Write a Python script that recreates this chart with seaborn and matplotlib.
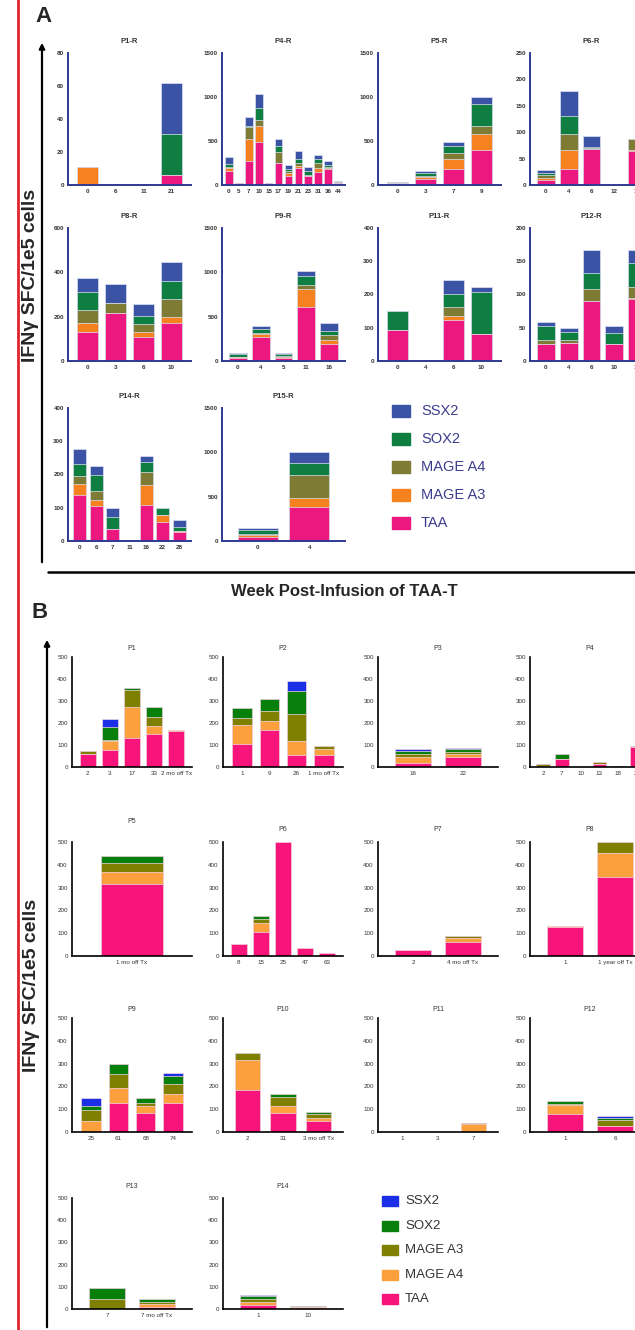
import numpy as np
import pandas as pd
import seaborn as sns
import matplotlib.pyplot as plt
from matplotlib.lines import Line2D
from matplotlib.patches import Rectangle, FancyArrowPatch

# stack order bottom -> top
A_ANTIGENS = ["TAA", "MAGE A3", "MAGE A4", "SOX2", "SSX2"]
A_COLORS = ["#ec177f", "#f5821f", "#7d7b34", "#0e7f41", "#3a53a4"]
B_ANTIGENS = ["TAA", "MAGE A4", "MAGE A3", "SOX2", "SSX2"]
B_COLORS = ["#f7157c", "#fca03e", "#7f7f00", "#06800a", "#1a2fe6"]

# ---- panel A (rows: TAA, MAGE A3, MAGE A4, SOX2, SSX2)
p1r_weeks = ["0", "6", "11", "21"]
p1r = [[0, 0, 0, 6], [11, 0, 0, 0], [0, 0, 0, 0], [0, 0, 0, 25], [0, 0, 0, 31]]

p4r_weeks = ["0", "5", "7", "10", "15", "17", "19", "21", "23", "31", "36", "44"]
p4r = [[155, 25, 270, 485, 25, 245, 100, 190, 100, 150, 185, 20],
       [40, 0, 252, 180, 0, 10, 35, 25, 5, 40, 10, 5],
       [15, 0, 135, 70, 0, 115, 20, 30, 10, 55, 10, 5],
       [30, 0, 10, 145, 0, 70, 30, 45, 40, 45, 20, 5],
       [80, 0, 110, 150, 0, 85, 40, 95, 45, 50, 45, 5]]

p5r_weeks = ["0", "3", "7", "9"]
p5r = [[15, 70, 180, 400], [5, 25, 110, 180], [3, 10, 70, 95],
       [5, 27, 85, 245], [2, 25, 45, 80]]

p6r_weeks = ["0", "4", "6", "12", "16"]
p6r = [[10, 30, 68, 0, 65], [4, 36, 1, 0, 2], [4, 30, 1, 0, 21],
       [5, 35, 2, 0, 0], [5, 47, 20, 0, 0]]

p8r_weeks = ["0", "3", "6", "10"]
p8r = [[130, 218, 110, 173], [40, 0, 22, 27], [60, 42, 35, 80],
       [83, 0, 37, 80], [60, 87, 52, 87]]

p9r_weeks = ["0", "4", "5", "11", "16"]
p9r = [[30, 275, 38, 605, 188], [10, 25, 11, 205, 50], [8, 20, 11, 50, 50],
       [30, 42, 15, 100, 52], [7, 38, 15, 60, 87]]

p11r_weeks = ["0", "4", "6", "10"]
p11r = [[93, 0, 122, 80], [0, 0, 12, 0], [0, 0, 28, 0],
        [58, 0, 39, 129], [0, 0, 43, 13]]

p12r_weeks = ["0", "4", "6", "10", "14"]
p12r = [[25, 27, 90, 25, 93], [1, 0, 0, 0, 2], [6, 5, 18, 0, 17],
        [21, 11, 24, 17, 35], [6, 6, 35, 11, 20]]

p14r_weeks = ["0", "6", "7", "11", "16", "22", "28"]
p14r = [[137, 104, 36, 0, 108, 57, 26], [35, 20, 0, 0, 59, 20, 3],
        [24, 27, 0, 0, 40, 2, 2], [36, 48, 35, 0, 30, 20, 12],
        [44, 27, 27, 0, 20, 0, 20]]

p15r_weeks = ["0", "4"]
p15r = [[49, 380], [15, 100], [11, 270], [49, 125], [19, 130]]

# ---- panel B (rows: TAA, MAGE A4, MAGE A3, SOX2, SSX2)
b1_weeks = ["2", "3", "17", "33", "2 mo off Tx"]
b1 = [[58, 76, 133, 152, 163], [0, 41, 138, 35, 4], [15, 8, 80, 42, 0],
      [0, 55, 10, 42, 0], [0, 38, 0, 3, 0]]

b2_weeks = ["1", "9", "26", "1 mo off Tx"]
b2 = [[104, 168, 53, 55], [86, 42, 66, 25], [34, 45, 122, 17],
      [43, 54, 105, 0], [0, 0, 43, 0]]

b3_weeks = ["16", "22"]
b3 = [[20, 47], [26, 12], [15, 8], [12, 15], [11, 5]]

b4_weeks = ["2", "7", "10", "13", "18", "2y"]
b4 = [[3, 36, 0, 12, 5, 92], [0, 0, 0, 3, 0, 0], [12, 0, 0, 6, 0, 5],
      [0, 24, 0, 0, 0, 0], [0, 0, 0, 0, 0, 0]]

b5_weeks = ["1 mo off Tx"]
b5 = [[317], [51], [40], [29], [0]]

b6_weeks = ["8", "15", "25", "47", "63"]
b6 = [[51, 106, 500, 35, 12], [0, 37, 0, 0, 0], [0, 20, 0, 0, 0],
      [0, 12, 0, 0, 0], [0, 0, 0, 0, 0]]

b7_weeks = ["2", "4 mo off Tx"]
b7 = [[28, 60], [0, 18], [0, 10], [0, 0], [0, 0]]

b8_weeks = ["1", "1 year off Tx"]
b8 = [[128, 345], [4, 105], [0, 50], [0, 0], [0, 0]]

b9_weeks = ["25", "61", "68", "74"]
b9 = [[0, 128, 82, 128], [50, 67, 32, 40], [48, 60, 15, 42],
      [15, 45, 20, 37], [37, 0, 0, 12]]

b10_weeks = ["2", "31", "3 mo off Tx"]
b10 = [[185, 85, 50], [130, 30, 12], [33, 38, 18], [0, 12, 7], [0, 3, 0]]

b11_weeks = ["1", "3", "7"]
b11 = [[0, 0, 0], [0, 0, 36], [0, 0, 4], [0, 0, 0], [0, 0, 0]]

b12_weeks = ["1", "6"]
b12 = [[80, 25], [37, 3], [5, 25], [12, 10], [0, 7]]

b13_weeks = ["7", "7 mo off Tx"]
b13 = [[0, 10], [0, 12], [45, 10], [48, 12], [0, 0]]

b14_weeks = ["1", "10"]
b14 = [[18, 5], [15, 2], [12, 3], [15, 5], [5, 0]]

# ---- layout (pixels)
W, H = 635, 1330
NARROW = ["Liberation Sans Narrow", "Liberation Sans", "DejaVu Sans"]
A_ROWS = [(53, 185), (228, 361), (408, 541)]
A_COLS = [68, 222, 378, 530]
B_ROWS = [(657, 767), (842, 956), (1018, 1132), (1198, 1309)]
B_COLS = [72, 223, 378, 530]
B_PADS = [5, 8, 5, 7]

A_PANELS = [("P1-R", p1r_weeks, p1r, 80, 20, 0, 0),
            ("P4-R", p4r_weeks, p4r, 1500, 500, 0, 1),
            ("P5-R", p5r_weeks, p5r, 1500, 500, 0, 2),
            ("P6-R", p6r_weeks, p6r, 250, 50, 0, 3),
            ("P8-R", p8r_weeks, p8r, 600, 200, 1, 0),
            ("P9-R", p9r_weeks, p9r, 1500, 500, 1, 1),
            ("P11-R", p11r_weeks, p11r, 400, 100, 1, 2),
            ("P12-R", p12r_weeks, p12r, 200, 50, 1, 3),
            ("P14-R", p14r_weeks, p14r, 400, 100, 2, 0),
            ("P15-R", p15r_weeks, p15r, 1500, 500, 2, 1)]

B_PANELS = [("P1", b1_weeks, b1, 0, 0), ("P2", b2_weeks, b2, 0, 1),
            ("P3", b3_weeks, b3, 0, 2), ("P4", b4_weeks, b4, 0, 3),
            ("P5", b5_weeks, b5, 1, 0), ("P6", b6_weeks, b6, 1, 1),
            ("P7", b7_weeks, b7, 1, 2), ("P8", b8_weeks, b8, 1, 3),
            ("P9", b9_weeks, b9, 2, 0), ("P10", b10_weeks, b10, 2, 1),
            ("P11", b11_weeks, b11, 2, 2), ("P12", b12_weeks, b12, 2, 3),
            ("P13", b13_weeks, b13, 3, 0), ("P14", b14_weeks, b14, 3, 1)]


def fx(x):
    return x / W


def fy(y):
    return 1 - y / H


def stacked(ax, weeks, rows, antigens, colors, edge, width):
    cum = pd.DataFrame(rows, index=antigens, columns=weeks).cumsum(axis=0)
    for i in reversed(range(len(antigens))):
        sns.barplot(x=weeks, y=cum.iloc[i].values, order=weeks, color=colors[i],
                    saturation=1, errorbar=None, width=width, edgecolor=edge,
                    linewidth=0.5, ax=ax)
    ax.set_xlim(-0.7, len(weeks) - 0.3)
    ax.set_xlabel("")
    ax.set_ylabel("")


sns.set_style("white")
plt.rcParams["font.family"] = ["Liberation Sans", "DejaVu Sans"]
fig = plt.figure(figsize=(W / 100, H / 100), dpi=100)

for title, weeks, rows, ymax, step, r, c in A_PANELS:
    top, bot = A_ROWS[r]
    ax = fig.add_axes([fx(A_COLS[c]), fy(bot), 123 / W, (bot - top) / H])
    stacked(ax, weeks, rows, A_ANTIGENS, A_COLORS, "#dfe2f2", 0.78)
    ax.set_ylim(0, ymax)
    ax.set_yticks(np.arange(0, ymax + 1, step))
    ax.set_title(title, fontsize=5.5, fontweight="bold", family=NARROW,
                 color="#333333", pad=7)
    for s in ["top", "right"]:
        ax.spines[s].set_visible(False)
    for s in ["left", "bottom"]:
        ax.spines[s].set_color("#2e3a92")
        ax.spines[s].set_linewidth(1.4)
    ax.tick_params(colors="#2e3a92", length=2, width=0.8, pad=1, labelsize=4.5,
                   labelcolor="#333333")
    for lab in ax.get_xticklabels() + ax.get_yticklabels():
        lab.set_fontweight("bold")
        lab.set_family(NARROW)

for title, weeks, rows, r, c in B_PANELS:
    top, bot = B_ROWS[r]
    ax = fig.add_axes([fx(B_COLS[c]), fy(bot), 120 / W, (bot - top) / H])
    stacked(ax, weeks, rows, B_ANTIGENS, B_COLORS, "#f4d9e6", 0.72)
    ax.set_ylim(0, 500)
    ax.set_yticks(np.arange(0, 501, 100))
    pad = 14 if title == "P5" else B_PADS[r]
    ax.set_title(title, fontsize=5, family=NARROW, color="#333333", pad=pad)
    for s in ["top", "right"]:
        ax.spines[s].set_visible(False)
    for s in ["left", "bottom"]:
        ax.spines[s].set_color("black")
        ax.spines[s].set_linewidth(1.2)
    ax.tick_params(colors="black", length=2, width=0.8, pad=1, labelsize=4.5,
                   labelcolor="#333333")
    for lab in ax.get_xticklabels() + ax.get_yticklabels():
        lab.set_family(NARROW)

# legends
A_LEG_Y = [411, 439, 467, 495, 523]
for name, color, y in zip(A_ANTIGENS[::-1], A_COLORS[::-1], A_LEG_Y):
    fig.add_artist(Rectangle((fx(392), fy(y + 6)), 18 / W, 12 / H,
                             transform=fig.transFigure, color=color))
    fig.text(fx(421), fy(y), name, fontsize=10.5, family=NARROW,
             color="#3c3c8c", va="center")

B_LEG_Y = [1201, 1226, 1250, 1275, 1299]
for name, color, y in zip(B_ANTIGENS[::-1], B_COLORS[::-1], B_LEG_Y):
    fig.add_artist(Rectangle((fx(382), fy(y + 5)), 16 / W, 10 / H,
                             transform=fig.transFigure, color=color))
    fig.text(fx(405), fy(y), name, fontsize=9.5, family=NARROW,
             color="#333333", va="center")

# frame decorations
fig.add_artist(Line2D([fx(18), fx(18)], [0, 1], color="#e0262b", lw=2))
fig.add_artist(Line2D([fx(48), 1], [fy(572), fy(572)], color="black", lw=1.8))
fig.add_artist(FancyArrowPatch((fx(42), fy(565)), (fx(42), fy(40)),
                               transform=fig.transFigure, arrowstyle="-|>",
                               mutation_scale=8, lw=1.6, color="black"))
fig.add_artist(FancyArrowPatch((fx(47), 0), (fx(47), fy(637)),
                               transform=fig.transFigure, arrowstyle="-|>",
                               mutation_scale=8, lw=1.6, color="black"))

fig.text(fx(43), fy(17), "A", fontsize=16, fontweight="bold", ha="center", va="center")
fig.text(fx(40), fy(612), "B", fontsize=16, fontweight="bold", ha="center", va="center")
fig.text(fx(344), fy(591), "Week Post-Infusion of TAA-T", fontsize=12,
         fontweight="bold", family=NARROW, ha="center", va="center")
fig.text(fx(31), fy(275), "IFN\u03b3 SFC/1e5 cells", fontsize=14,
         fontweight="bold", rotation=90, ha="center", va="center")
fig.text(fx(32), fy(985), "IFN\u03b3 SFC/1e5 cells", fontsize=14,
         fontweight="bold", rotation=90, ha="center", va="center")

fig.savefig("out.png", dpi=100)
